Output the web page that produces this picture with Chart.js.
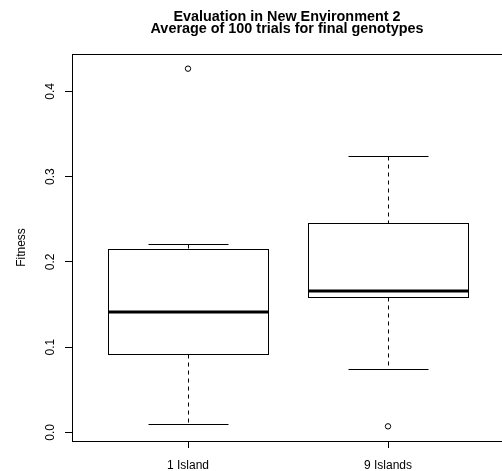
<!DOCTYPE html>
<html>
<head>
<meta charset="utf-8">
<script src="https://cdn.jsdelivr.net/npm/chart.js@4.4.1/dist/chart.umd.min.js"></script>
<style>
  html, body { margin: 0; padding: 0; background: #fff; overflow: hidden; }
  #wrap { width: 502px; height: 471px; }
</style>
</head>
<body>
<div id="wrap"><canvas id="chart"></canvas></div>
<script>
const groups = ['1 Island', '9 Islands'];
const lowerWhisker = [0.0095, 0.0740];
const q1 = [0.0919, 0.1588];
const medians = [0.1416, 0.1655];
const q3 = [0.2151, 0.2452];
const upperWhisker = [0.2206, 0.3242];
const outliers = [[0.4266], [0.0071]];
const yTicks = [0, 0.1, 0.2, 0.3, 0.4];
const titleLines = ['Evaluation in New Environment 2', 'Average of 100 trials for final genotypes'];

const FONT = '"Liberation Sans", Arial, Helvetica, sans-serif';

// box drawing, all positions come from the chart scales
const boxPlugin = {
  id: 'boxes',
  beforeDatasetsDraw(chart) {
    const { ctx, scales: { x, y } } = chart;
    const crisp = (v) => Math.round(v) + 0.5;
    const seg = (x1, y1, x2, y2) => {
      ctx.beginPath();
      ctx.moveTo(x1, y1);
      ctx.lineTo(x2, y2);
      ctx.stroke();
    };
    ctx.save();
    ctx.strokeStyle = '#000';
    groups.forEach((g, i) => {
      const pos = i + 1;
      const c = crisp(x.getPixelForValue(pos));
      const l = crisp(x.getPixelForValue(pos - 0.4));
      const r = crisp(x.getPixelForValue(pos + 0.4));
      const sl = crisp(x.getPixelForValue(pos - 0.2));
      const sr = crisp(x.getPixelForValue(pos + 0.2));
      const yLo = crisp(y.getPixelForValue(lowerWhisker[i]));
      const yQ1 = crisp(y.getPixelForValue(q1[i]));
      const yMed = y.getPixelForValue(medians[i]);
      const yQ3 = crisp(y.getPixelForValue(q3[i]));
      const yHi = crisp(y.getPixelForValue(upperWhisker[i]));

      ctx.lineWidth = 1;
      ctx.setLineDash([4, 4]);
      seg(c, yHi, c, yQ3);
      seg(c, yQ1, c, yLo);
      ctx.setLineDash([]);
      seg(sl, yHi, sr, yHi);
      seg(sl, yLo, sr, yLo);

      ctx.fillStyle = '#fff';
      ctx.fillRect(l, yQ3, r - l, yQ1 - yQ3);
      ctx.strokeRect(l, yQ3, r - l, yQ1 - yQ3);

      ctx.lineWidth = 3;
      seg(l, Math.round(yMed), r, Math.round(yMed));
    });
    ctx.restore();
  },
  afterDraw(chart) {
    const { ctx, chartArea } = chart;
    ctx.save();
    ctx.strokeStyle = '#000';
    ctx.lineWidth = 1;
    ctx.strokeRect(Math.round(chartArea.left) + 0.5, Math.round(chartArea.top) + 0.5,
      Math.round(chartArea.right - chartArea.left), Math.round(chartArea.bottom - chartArea.top));
    // title centred over the plot region
    ctx.fillStyle = '#000';
    ctx.font = 'bold 14.4px ' + FONT;
    ctx.textAlign = 'center';
    ctx.textBaseline = 'alphabetic';
    const cx = (chartArea.left + chartArea.right) / 2;
    ctx.fillText(titleLines[0], cx, 20.7);
    ctx.fillText(titleLines[1], cx, 32.7);
    ctx.restore();
  }
};

const outlierPoints = [];
outliers.forEach((vals, i) => vals.forEach((v) => outlierPoints.push({ x: i + 1, y: v })));

new Chart(document.getElementById('chart'), {
  type: 'scatter',
  data: {
    datasets: [{
      label: 'outliers',
      data: outlierPoints,
      pointStyle: 'circle',
      pointRadius: 2.7,
      pointBorderWidth: 1,
      borderColor: '#000',
      backgroundColor: 'rgba(0,0,0,0)',
    }],
  },
  options: {
    responsive: true,
    maintainAspectRatio: false,
    animation: false,
    layout: { autoPadding: false, padding: { top: 54, left: 0, right: 0, bottom: 0 } },
    plugins: {
      legend: { display: false },
      tooltip: { enabled: false },
      title: { display: false },
    },
    scales: {
      x: {
        type: 'linear',
        min: 0.42,
        max: 2.57,
        afterBuildTicks: (scale) => {
          scale.ticks = groups.map((g, i) => ({ value: i + 1 }));
        },
        afterFit: (scale) => { scale.height = 30; },
        grid: { drawOnChartArea: false, color: '#000', tickLength: 7 },
        border: { color: '#000' },
        ticks: {
          color: '#000',
          font: { family: FONT, size: 12 },
          padding: 10,
          maxRotation: 0,
          callback: (v) => groups[v - 1],
        },
      },
      y: {
        min: -0.0101,
        max: 0.4438,
        afterBuildTicks: (scale) => {
          scale.ticks = yTicks.map((v) => ({ value: v }));
        },
        afterFit: (scale) => { scale.width = 72; },
        grid: { drawOnChartArea: false, color: '#000', tickLength: 7 },
        border: { color: '#000' },
        title: {
          display: true,
          text: 'Fitness',
          color: '#000',
          font: { family: FONT, size: 12 },
          padding: { top: 14, bottom: 0 },
        },
        ticks: {
          color: '#000',
          font: { family: FONT, size: 12 },
          minRotation: 90,
          maxRotation: 90,
          crossAlign: 'center',
          padding: 6,
          callback: (v) => v.toFixed(1),
        },
      },
    },
  },
  plugins: [boxPlugin],
});
</script>
</body>
</html>
